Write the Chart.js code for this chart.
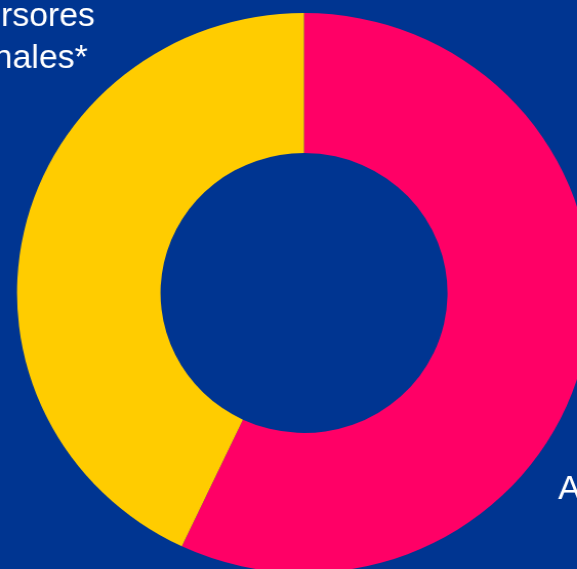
<!DOCTYPE html>
<html>
<head>
<meta charset="utf-8">
<script src="https://cdn.jsdelivr.net/npm/chart.js@4"></script>
<style>
    html, body { margin: 0; padding: 0; background: #003591; overflow: hidden; }
    #wrap { width: 577px; height: 569px; overflow: hidden; position: relative; }
    #grafico { transform: scaleX(1.025); transform-origin: 0 0; }
</style>
</head>
<body>
<div id="wrap"><canvas id="grafico" width="600" height="600"></canvas></div>
<script>
    var categorias = ["Accionistas", "Inversores institucionales*"];
    var valores = [57, 43];
    var farben = ["#ff0066", "#ffcc00"];

    // text lines of the outside labels, with offsets from the donut centre
    var etiquetas = [
        { lines: ["Accionistas"], dx: 248, dy: 206, align: "left" },
        { lines: ["Inversores", "institucionales*"], dx: -204, dy: -267, align: "right", lineDx: [0, -7] }
    ];

    const labelPlugin = {
        id: "labelPlugin",
        afterDraw(chart) {
            const arc = chart.getDatasetMeta(0).data[0];
            const ctx = chart.ctx;
            ctx.save();
            ctx.fillStyle = "#ffffff";
            ctx.font = "33px 'Liberation Sans', Arial, sans-serif";
            ctx.textBaseline = "alphabetic";
            etiquetas.forEach((e) => {
                ctx.textAlign = e.align;
                e.lines.forEach((t, i) => {
                    var off = e.lineDx ? e.lineDx[i] : 0;
                    ctx.fillText(t, arc.x + e.dx + off, arc.y + e.dy + i * 42);
                });
            });
            ctx.restore();
        },
    };

    new Chart(document.getElementById("grafico"), {
        type: "doughnut",
        data: {
            labels: categorias,
            datasets: [
                {
                    data: valores,
                    backgroundColor: farben,
                    borderWidth: 0,
                },
            ],
        },
        options: {
            responsive: false,
            animation: false,
            cutout: "50%",
            layout: { padding: { left: 16.6, top: 13, right: 23.4, bottom: 27 } },
            plugins: {
                legend: { display: false },
                tooltip: { enabled: false },
            },
        },
        plugins: [labelPlugin],
    });
</script>
</body>
</html>
